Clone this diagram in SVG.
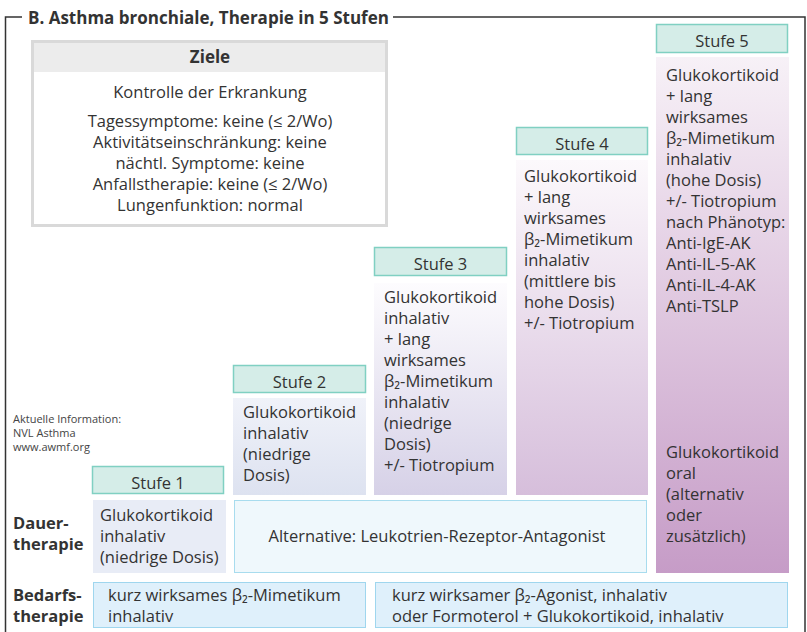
<svg xmlns="http://www.w3.org/2000/svg" width="807" height="632" viewBox="0 0 807 632">
<style>
text{font-family:"Open Sans","Noto Sans","DejaVu Sans",sans-serif;fill:#333;font-size:16.5px}
.b{font-weight:bold}
.c{text-anchor:middle}
.hdr{fill:#d5ede8;stroke:#80d0c2;stroke-width:1.5}
.small{font-size:11px;fill:#444}
</style>
<defs>
<linearGradient id="g2" x1="0" y1="0" x2="0" y2="1"><stop offset="0" stop-color="#f0f2f9"/><stop offset="1" stop-color="#dde2f0"/></linearGradient>
<linearGradient id="g3" x1="0" y1="0" x2="0" y2="1"><stop offset="0" stop-color="#fdfcfe"/><stop offset="1" stop-color="#d6d1e7"/></linearGradient>
<linearGradient id="g4" x1="0" y1="0" x2="0" y2="1"><stop offset="0" stop-color="#fcf9fc"/><stop offset="1" stop-color="#d6bedb"/></linearGradient>
<linearGradient id="g5" x1="0" y1="0" x2="0" y2="1"><stop offset="0" stop-color="#f7f1f7"/><stop offset="1" stop-color="#c69cc7"/></linearGradient>
</defs>
<rect width="807" height="632" fill="#fff"/>
<g id="frame" fill="none" stroke="#333" stroke-width="1.5">
<path d="M22 17 H5.5 V632"/>
<path d="M393 17 H805 V632"/>
</g>
<text id="title" class="b" x="28" y="23.5" style="font-size:17px">B. Asthma bronchiale, Therapie in 5 Stufen</text>

<g id="ziele">
<rect x="32.5" y="41.5" width="354" height="184" fill="#fff" stroke="#d9d9d9" stroke-width="3"/>
<rect x="34" y="43" width="351" height="29" fill="#ececec"/>
<text class="b c" x="210" y="63" style="font-size:17px">Ziele</text>
<text class="c" x="210" y="98">Kontrolle der Erkrankung</text>
<text class="c" x="210" y="126.5">Tagessymptome: keine (≤ 2/Wo)</text>
<text class="c" x="210" y="147.5">Aktivitätseinschränkung: keine</text>
<text class="c" x="210" y="168.5">nächtl. Symptome: keine</text>
<text class="c" x="210" y="189.5">Anfallstherapie: keine (≤ 2/Wo)</text>
<text class="c" x="210" y="210.5">Lungenfunktion: normal</text>
</g>

<g id="info">
<text class="small" x="13" y="423">Aktuelle Information:</text>
<text class="small" x="13" y="437">NVL Asthma</text>
<text class="small" x="13" y="451">www.awmf.org</text>
</g>

<g id="labels">
<text class="b" x="13" y="529">Dauer-</text>
<text class="b" x="13" y="550">therapie</text>
<text class="b" x="13" y="601">Bedarfs-</text>
<text class="b" x="13" y="622">therapie</text>
</g>

<g id="stufe1">
<rect class="hdr" x="92.5" y="466.5" width="131" height="27"/>
<text class="c" x="158" y="489">Stufe 1</text>
<rect x="93" y="500" width="133" height="73" fill="#e8ecf6"/>
<text x="100" y="521">Glukokortikoid</text>
<text x="100" y="542">inhalativ</text>
<text x="100" y="563">(niedrige Dosis)</text>
</g>

<g id="stufe2">
<rect class="hdr" x="233.5" y="365.5" width="132" height="27"/>
<text class="c" x="299.5" y="388">Stufe 2</text>
<rect x="233" y="398" width="133" height="97" fill="url(#g2)"/>
<text x="243" y="418">Glukokortikoid</text>
<text x="243" y="439">inhalativ</text>
<text x="243" y="460">(niedrige</text>
<text x="243" y="481">Dosis)</text>
</g>

<g id="stufe3">
<rect class="hdr" x="374.5" y="247.5" width="132" height="28"/>
<text class="c" x="440.5" y="270">Stufe 3</text>
<rect x="374" y="283" width="133" height="212" fill="url(#g3)"/>
<text x="384" y="303">Glukokortikoid</text>
<text x="384" y="324">inhalativ</text>
<text x="384" y="345">+ lang</text>
<text x="384" y="366">wirksames</text>
<text x="384" y="387">β₂-Mimetikum</text>
<text x="384" y="408">inhalativ</text>
<text x="384" y="429">(niedrige</text>
<text x="384" y="450">Dosis)</text>
<text x="384" y="471">+/- Tiotropium</text>
</g>

<g id="stufe4">
<rect class="hdr" x="516.5" y="127.5" width="131" height="27"/>
<text class="c" x="582" y="150">Stufe 4</text>
<rect x="516" y="160" width="132" height="335" fill="url(#g4)"/>
<text x="524" y="182">Glukokortikoid</text>
<text x="524" y="203">+ lang</text>
<text x="524" y="224">wirksames</text>
<text x="524" y="245">β₂-Mimetikum</text>
<text x="524" y="266">inhalativ</text>
<text x="524" y="287">(mittlere bis</text>
<text x="524" y="308">hohe Dosis)</text>
<text x="524" y="329">+/- Tiotropium</text>
</g>

<g id="stufe5">
<rect class="hdr" x="656.5" y="24.5" width="131" height="28"/>
<text class="c" x="722" y="47">Stufe 5</text>
<rect x="656" y="57" width="133" height="516" fill="url(#g5)"/>
<text x="666" y="80.5">Glukokortikoid</text>
<text x="666" y="101.5">+ lang</text>
<text x="666" y="122.5">wirksames</text>
<text x="666" y="143.5">β₂-Mimetikum</text>
<text x="666" y="164.5">inhalativ</text>
<text x="666" y="185.5">(hohe Dosis)</text>
<text x="666" y="206.5">+/- Tiotropium</text>
<text x="666" y="227.5">nach Phänotyp:</text>
<text x="666" y="248.5">Anti-IgE-AK</text>
<text x="666" y="269.5">Anti-IL-5-AK</text>
<text x="666" y="290.5">Anti-IL-4-AK</text>
<text x="666" y="311.5">Anti-TSLP</text>
<text x="666" y="458">Glukokortikoid</text>
<text x="666" y="479">oral</text>
<text x="666" y="500">(alternativ</text>
<text x="666" y="521">oder</text>
<text x="666" y="542">zusätzlich)</text>
</g>

<g id="alternative">
<rect x="234.5" y="500.5" width="412" height="72" fill="#eff8fc" stroke="#a8dcee" stroke-width="1"/>
<text class="c" x="437" y="542">Alternative: Leukotrien-Rezeptor-Antagonist</text>
</g>

<g id="bedarf1">
<rect x="93.5" y="582.5" width="272" height="45" fill="#dff0fb" stroke="#9fd6ee" stroke-width="1"/>
<text x="108" y="601">kurz wirksames β₂-Mimetikum</text>
<text x="108" y="622">inhalativ</text>
</g>

<g id="bedarf2">
<rect x="375.5" y="582.5" width="412" height="45" fill="#dff0fb" stroke="#9fd6ee" stroke-width="1"/>
<text x="392" y="601">kurz wirksamer β₂-Agonist, inhalativ</text>
<text x="392" y="622">oder Formoterol + Glukokortikoid, inhalativ</text>
</g>

<g id="connectors"></g>
</svg>
